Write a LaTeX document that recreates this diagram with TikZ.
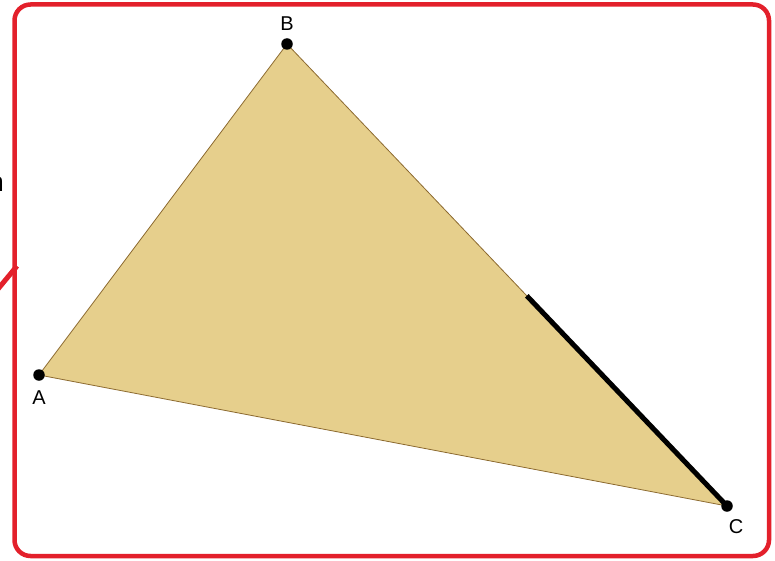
\documentclass[tikz,border=0pt]{standalone}
\usepackage{fontspec}
\setmainfont{Liberation Sans}
\usepackage{xcolor}
\definecolor{framered}{HTML}{E3202B}
\definecolor{tanfill}{HTML}{E6CF8C}
\definecolor{edgebrown}{HTML}{8C6A30}
\usetikzlibrary{positioning,calc}

\begin{document}
\begin{tikzpicture}[
  x=1pt,y=-1pt,
  pt/.style={circle,fill=black,inner sep=0pt,minimum size=11.5pt},
  lbl/.style={font=\fontsize{20}{20}\selectfont,inner sep=1pt},
  frame/.style={draw=framered,line width=4.5pt,rounded corners=16pt}]
\useasboundingbox (0,0) rectangle (775,561);
\begin{scope}
\clip (0,0) rectangle (775,561);
\node[font=\fontsize{27}{27}\selectfont,inner sep=0pt,anchor=east] (cut) at (4,184) {n};
\coordinate (s1) at (-2,289);
\coordinate (s2) at (17,266);
\draw[framered,line width=5pt] (s1) -- (s2);
\end{scope}
\draw[frame] (14.5,4.5) rectangle (769,556);
\coordinate (A) at (39,375);
\coordinate (B) at (287,44);
\coordinate (C) at (727,506);
\fill[tanfill] (A) -- (B) -- (C) -- cycle;
\draw[edgebrown,line width=0.8pt] (A) -- (B) -- (C) -- cycle;
\coordinate (M) at ($(B)!0.545!(C)$);
\draw[black,line width=5pt] (M) -- (C);
\node[pt] (pA) at (A) {};
\node[pt] (pB) at (B) {};
\node[pt] (pC) at (C) {};
\node[lbl] (lA) at (39,398) {A};
\node[lbl] (lB) at (287,24) {B};
\node[lbl] (lC) at (736,527) {C};
\end{tikzpicture}
\end{document}
